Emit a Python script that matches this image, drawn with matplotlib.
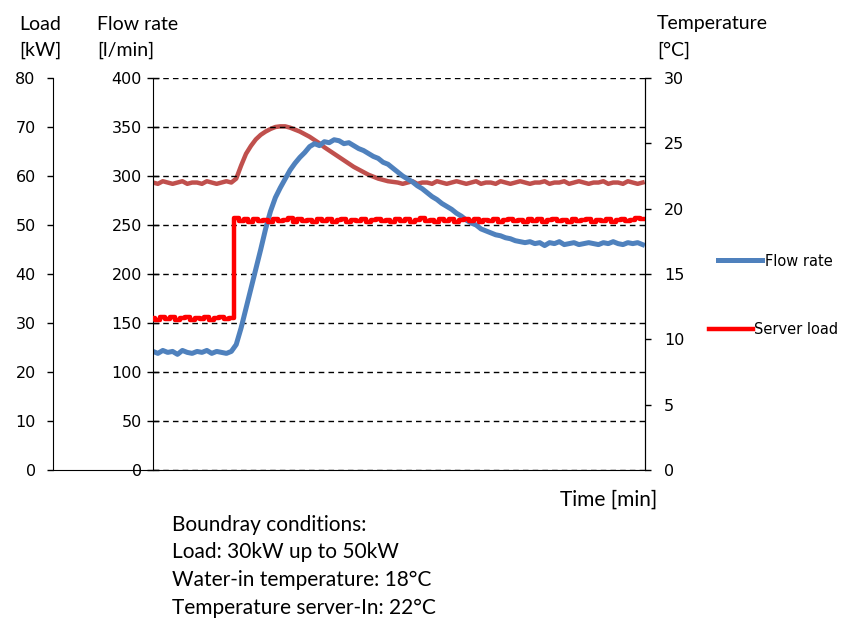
import matplotlib
matplotlib.use("Agg")
import matplotlib.pyplot as plt

# time axis (arbitrary minutes, no tick labels on the chart)
time_min = list(range(0, 101))

# flow rate [l/min]
flow_rate = [
    121, 119, 122, 120, 121, 118, 122, 120, 119, 121, 120, 122, 119, 121, 120, 119, 121,
    128, 145, 165, 185, 205, 225, 246, 264, 278, 288, 297, 306, 313, 319, 324, 330,
    333, 331, 335, 334, 337, 336, 333, 334, 331, 328, 326, 323, 320, 318, 314, 312,
    308, 304, 300, 297, 294, 290, 287, 283, 279, 276, 272, 269, 266, 262, 259, 255,
    252, 250, 246, 244, 242, 240, 239, 237, 236, 234, 233, 232, 233, 231, 232, 229,
    232, 231, 233, 230, 231, 232, 230, 231, 232, 231, 230, 232, 231, 233, 231, 230,
    232, 231, 232, 230,
]

# server load [kW]
server_load = [
    31.0, 30.6, 31.3, 30.8, 31.2, 30.7, 31.0, 31.3, 30.6, 31.1, 30.8, 31.2, 30.7, 31.0, 31.3, 30.8, 31.0,
    51.4, 50.8, 51.2, 50.7, 51.3, 50.9, 51.1, 50.6, 51.3, 50.8, 51.0, 51.4, 50.7, 51.2, 50.8, 51.1,
    50.6, 51.3, 50.9, 51.2, 50.7, 51.0, 51.3, 50.6, 51.1, 50.8, 51.3, 50.7, 51.0, 51.2, 50.8, 51.1,
    50.6, 51.3, 50.9, 51.2, 50.7, 51.0, 51.4, 50.8, 51.1, 50.7, 51.2, 50.9, 51.3, 50.6, 51.0, 51.2,
    50.8, 51.3, 50.7, 51.1, 50.9, 51.2, 50.6, 51.0, 51.3, 50.8, 51.1, 50.7, 51.2, 50.9, 51.3, 50.6,
    51.0, 51.2, 50.8, 51.1, 50.7, 51.3, 50.9, 51.0, 51.2, 50.6, 51.1, 50.8, 51.3, 50.7, 51.0, 51.2,
    50.9, 51.1, 51.4, 51.2,
]

# server inlet temperature [deg C]
temperature = [
    22.0, 21.9, 22.1, 22.0, 21.9, 22.0, 22.1, 21.9, 22.0, 22.0, 21.9, 22.1, 22.0, 21.9, 22.0, 22.1, 22.0,
    22.3, 23.3, 24.2, 24.8, 25.3, 25.65, 25.9, 26.1, 26.25, 26.3, 26.3, 26.2, 26.05, 25.9, 25.7, 25.5,
    25.25, 25.0, 24.7, 24.45, 24.2, 23.95, 23.7, 23.45, 23.2, 23.0, 22.8, 22.6, 22.45, 22.3, 22.2, 22.1,
    22.05, 22.0, 21.9, 22.0, 22.1, 21.9, 22.0, 22.0, 21.9, 22.1, 22.0, 21.9, 22.0, 22.1, 22.0, 21.9,
    22.0, 22.1, 21.9, 22.0, 22.0, 21.9, 22.1, 22.0, 21.9, 22.0, 22.1, 22.0, 21.9, 22.0, 22.0, 22.1,
    21.9, 22.0, 22.0, 22.1, 21.9, 22.0, 22.1, 22.0, 21.9, 22.0, 22.0, 22.1, 21.9, 22.0, 22.0, 21.9,
    22.1, 22.0, 21.9, 22.0,
]

flow_ticks = list(range(0, 401, 50))
load_ticks = list(range(0, 81, 10))
temp_ticks = list(range(0, 31, 5))

conditions = [
    "Boundray conditions:",
    "Load: 30kW up to 50kW",
    "Water-in temperature: 18°C",
    "Temperature server-In: 22°C",
]

W, H = 845, 619
tick_font = 11.5
label_font = "Lato"


def fx(px):
    return px / W


def fy(py):
    return 1 - py / H


fig = plt.figure(figsize=(W / 100, H / 100), dpi=100)

# frame for the load axis (left spine + long bottom line)
ax_frame = fig.add_axes([fx(53), fy(470), fx(645 - 53), (470 - 78) / H])
ax_frame.set_ylim(0, 80)
ax_frame.set_yticks(load_ticks)
ax_frame.set_xticks([])
for s in ["top", "right"]:
    ax_frame.spines[s].set_visible(False)
ax_frame.tick_params(axis="y", direction="out", length=4.5, width=1, pad=8, labelsize=tick_font)
ax_frame.patch.set_visible(False)

# main axes: flow rate
ax = fig.add_axes([fx(153), fy(470), fx(645 - 153), (470 - 78) / H])
ax.patch.set_visible(False)
ax.set_xlim(0, 100.5)
ax.set_ylim(0, 400)
ax.set_yticks(flow_ticks)
ax.set_xticks([])
ax.spines["top"].set_visible(False)
ax.spines["bottom"].set_visible(False)
ax.tick_params(axis="y", direction="inout", length=8, width=1, pad=4, labelsize=tick_font)
ax.yaxis.grid(True, color="black", linestyle=(0, (4, 3)), linewidth=1)
ax.set_axisbelow(True)

# temperature on the right
ax_temp = ax.twinx()
ax_temp.set_ylim(0, 30)
ax_temp.set_yticks(temp_ticks)
for s in ["top", "bottom", "left"]:
    ax_temp.spines[s].set_visible(False)
ax_temp.tick_params(axis="y", direction="out", length=4.5, width=1, pad=9, labelsize=tick_font)
ax_temp.plot(time_min, temperature, color="#C0504D", linewidth=3.2)

# load data drawn on a hidden twin with the load scale
ax_load = ax.twinx()
ax_load.set_ylim(0, 80)
ax_load.axis("off")

line_flow, = ax.plot(time_min, flow_rate, color="#4F81BD", linewidth=3.6)
line_load, = ax_load.plot(time_min, server_load, color="#FF0000", linewidth=3.2,
                          drawstyle="steps-mid")

ax.set_zorder(ax_temp.get_zorder() + 1)
ax_load.set_zorder(ax.get_zorder() + 1)

# axis titles
fig.text(fx(40), fy(24), "Load", ha="center", va="center", fontsize=14, family=label_font)
fig.text(fx(40), fy(50), "[kW]", ha="center", va="center", fontsize=14, family=label_font)
fig.text(fx(97), fy(24), "Flow rate", ha="left", va="center", fontsize=14, family=label_font)
fig.text(fx(97), fy(50), "[l/min]", ha="left", va="center", fontsize=14, family=label_font)
fig.text(fx(657), fy(24), "Temperature", ha="left", va="center", fontsize=14, family=label_font)
fig.text(fx(657), fy(50), "[°C]", ha="left", va="center", fontsize=14, family=label_font)
fig.text(fx(657), fy(500), "Time [min]", ha="right", va="center", fontsize=15, family=label_font)

for i, line in enumerate(conditions):
    fig.text(fx(172), fy(525 + i * 27.5), line, ha="left", va="center", fontsize=15,
             family=label_font)

# two separate legend entries, placed like the original
fig.legend([line_flow], ["Flow rate"], loc="center left",
           bbox_to_anchor=(fx(711), fy(261)), frameon=False, fontsize=10.5,
           handlelength=3.0, handletextpad=0.2, borderpad=0)
fig.legend([line_load], ["Server load"], loc="center left",
           bbox_to_anchor=(fx(702), fy(330)), frameon=False, fontsize=10.5,
           handlelength=3.0, handletextpad=0.1, borderpad=0)

fig.savefig("out.png", dpi=100)
